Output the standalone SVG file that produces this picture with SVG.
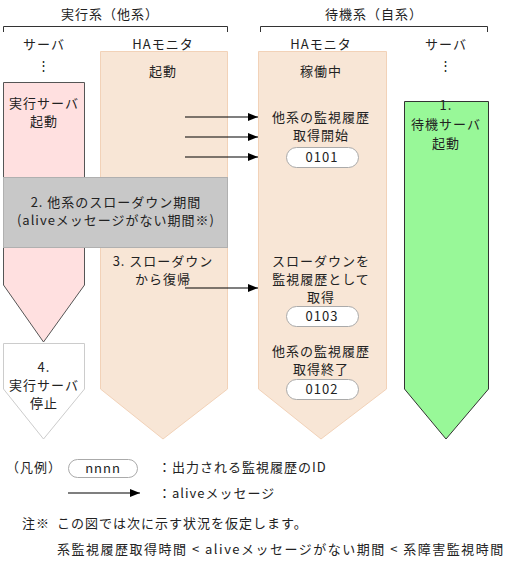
<svg xmlns="http://www.w3.org/2000/svg" width="507" height="565" viewBox="0 0 507 565">
<style>
text{font-family:"Noto Sans CJK JP","Noto Sans CJK SC",sans-serif;font-size:13px;fill:#222;letter-spacing:1px}
.c{text-anchor:middle}
.w{letter-spacing:1.5px}
.pill{fill:#fff;stroke:#aaa;stroke-width:1}
.br{fill:none;stroke:#333;stroke-width:1}
.ln{stroke:#000;stroke-width:1.2}
</style>
<defs>
<marker id="ah" viewBox="0 0 10 8" refX="10" refY="4" markerWidth="10" markerHeight="8" markerUnits="userSpaceOnUse" orient="auto">
<polygon points="0,0 10,4 0,8" fill="#000"/>
</marker>
</defs>
<g id="headers">
<text class="c" x="110" y="19">実行系（他系）</text>
<path class="br" d="M3.5,32 V26.5 H227.5 V32"/>
<text class="c" x="374" y="19">待機系（自系）</text>
<path class="br" d="M260.5,32 V26.5 H487.5 V32"/>
<text class="c" x="44" y="49">サーバ</text>
<text class="c" x="163" y="49">HAモニタ</text>
<text class="c" x="321" y="49">HAモニタ</text>
<text class="c" x="446" y="49">サーバ</text>
<text class="c" x="44" y="70">⋮</text>
<text class="c" x="446" y="70">⋮</text>
</g>
<g id="ha-left">
<polygon points="100.5,51.5 227.5,51.5 227.5,389 163,439 100.5,389" fill="#f8e6d6" stroke="#f2d2b8"/>
<text class="c" x="163" y="76">起動</text>
<text class="c" x="163" y="266">3. スローダウン</text>
<text class="c" x="163" y="284">から復帰</text>
</g>
<g id="ha-right">
<polygon points="258.5,51.5 386.5,51.5 386.5,389 321,439 258.5,389" fill="#f8e6d6" stroke="#f2d2b8"/>
<text class="c" x="321" y="76">稼働中</text>
<text class="c" x="321" y="122">他系の監視履歴</text>
<text class="c" x="321" y="140">取得開始</text>
<rect class="pill" x="286.5" y="147.5" width="72" height="20" rx="10"/>
<text class="c" x="322" y="162">0101</text>
<text class="c" x="321" y="266">スローダウンを</text>
<text class="c" x="321" y="284">監視履歴として</text>
<text class="c" x="321" y="302">取得</text>
<rect class="pill" x="286.5" y="306.5" width="72" height="20" rx="10"/>
<text class="c" x="322" y="321">0103</text>
<text class="c" x="321" y="356">他系の監視履歴</text>
<text class="c" x="321" y="374">取得終了</text>
<rect class="pill" x="286.5" y="379.5" width="72" height="20" rx="10"/>
<text class="c" x="322" y="394">0102</text>
</g>
<g id="server-exec">
<polygon points="3.5,82.5 84.5,82.5 84.5,285 43.5,342 3.5,285" fill="#ffe0e0" stroke="#555"/>
<text class="c" x="44" y="108">実行サーバ</text>
<text class="c" x="44" y="126">起動</text>
</g>
<g id="server-stop">
<polygon points="3.5,343.5 84.5,343.5 84.5,389 43.5,439 3.5,389" fill="#fff" stroke="#ccc"/>
<text class="c" x="44" y="372">4.</text>
<text class="c" x="44" y="390">実行サーバ</text>
<text class="c" x="44" y="408">停止</text>
</g>
<g id="server-standby">
<polygon points="404.5,101.5 488.5,101.5 488.5,389 446,439 404.5,389" fill="#98f898" stroke="#333"/>
<text class="c" x="446" y="110">1.</text>
<text class="c" x="446" y="129">待機サーバ</text>
<text class="c" x="446" y="148">起動</text>
</g>
<g id="slowdown">
<rect x="3.5" y="177.5" width="224" height="70" fill="#c8c8c8" stroke="#b0b0b0"/>
<text class="c" x="116" y="207">2. 他系のスローダウン期間</text>
<text class="c" x="116" y="225">(aliveメッセージがない期間※)</text>
</g>
<g id="connectors">
<line class="ln" x1="185" y1="117" x2="258" y2="117" marker-end="url(#ah)"/>
<line class="ln" x1="185" y1="137" x2="258" y2="137" marker-end="url(#ah)"/>
<line class="ln" x1="185" y1="157" x2="258" y2="157" marker-end="url(#ah)"/>
<line class="ln" x1="185" y1="288" x2="258" y2="288" marker-end="url(#ah)"/>
</g>
<g id="legend">
<text x="6" y="472">（凡例）</text>
<rect class="pill" x="68.5" y="459.5" width="69" height="18" rx="9"/>
<text class="c" x="103" y="473">nnnn</text>
<text x="158" y="472">：出力される監視履歴のID</text>
<line class="ln" x1="68" y1="493" x2="140" y2="493" marker-end="url(#ah)"/>
<text x="158" y="498">：aliveメッセージ</text>
</g>
<g id="note">
<text x="22" y="528">注※</text>
<text x="57" y="528">この図では次に示す状況を仮定します。</text>
<text class="w" x="57" y="554">系監視履歴取得時間 &lt; aliveメッセージがない期間 &lt; 系障害監視時間</text>
</g>
</svg>
